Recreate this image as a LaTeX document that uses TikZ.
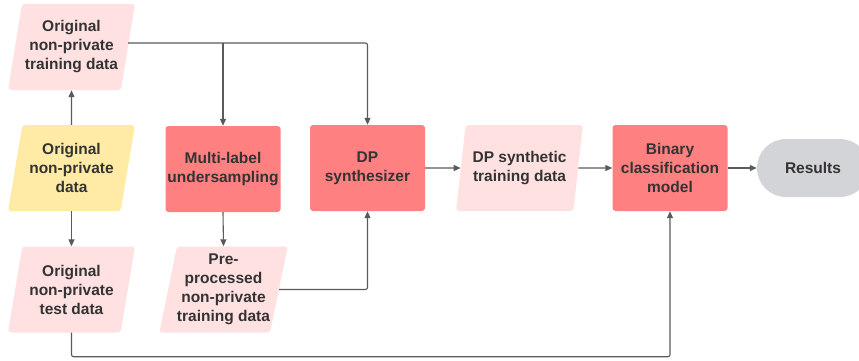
\documentclass[tikz,border=0pt]{standalone}
\usepackage{fontspec}
\setmainfont{Liberation Sans}
\usepackage{tikz}
\usetikzlibrary{arrows.meta,shapes.geometric,calc}

\definecolor{datapink}{HTML}{FFE1E1}
\definecolor{datayellow}{HTML}{FFEBA6}
\definecolor{stepred}{HTML}{FF8080}
\definecolor{endgray}{HTML}{D2D4D7}
\definecolor{linegray}{HTML}{5A5A5A}
\definecolor{textgray}{HTML}{333333}

\begin{document}
\begin{tikzpicture}
    [
      x=1pt, y=-1pt,
      font=\fontsize{15.5}{19}\selectfont\bfseries,
      text=textgray,
      dataset/.style = {shape=trapezium, trapezium left angle=76, trapezium right angle=104,
                        trapezium stretches=true, minimum width=127pt, minimum height=86pt,
                        inner sep=0pt, align=center, rounded corners=3pt, fill=datapink},
      process/.style = {rectangle, minimum width=115pt, minimum height=86pt, inner sep=0pt,
                        align=center, rounded corners=3pt, fill=stepred},
      terminal/.style = {rectangle, minimum width=112pt, minimum height=58pt, inner sep=0pt,
                        rounded corners=29pt, fill=endgray},
      flow/.style = {draw=linegray, line width=1.1pt, rounded corners=2pt,
                     -{Triangle[length=7pt,width=6pt]}},
    ]
    \useasboundingbox (0,0) rectangle (859,360);

    \node[dataset] (train) at (71.5,47) {Original\\non-private\\training data};
    \node[dataset, fill=datayellow] (data) at (71.5,168) {Original\\non-private\\data};
    \node[dataset] (test) at (71.5,289.5) {Original\\non-private\\test data};
    \node[process] (undersample) at (223,169) {Multi-label\\undersampling};
    \node[dataset] (preproc) at (223.5,289.5) {Pre-\\processed\\non-private\\training data};
    \node[process] (synth) at (367.5,168) {DP\\synthesizer};
    \node[dataset] (synthdata) at (519.5,168) {DP synthetic\\training data};
    \node[process] (model) at (670,168) {Binary\\classification\\model};
    \node[terminal] (results) at (813,168) {Results};

    \coordinate (split) at ([yshift=4pt]train.east);

    \draw[flow] (data.north) -- (train.south);
    \draw[flow] (data.south) -- (test.north);
    \draw[flow] (split) -| (synth.north);
    \draw[flow] (split -| undersample.north) -- (undersample.north);
    \draw[flow] (undersample.south) -- (preproc.north);
    \draw[flow] (preproc.east) -| (synth.south);
    \draw[flow] (synth.east) -- (synthdata.west);
    \draw[flow] (synthdata.east) -- (model.west);
    \draw[flow] (model.east) -- (results.west);
    \draw[flow] (test.south) -- ++(0,24) -| (model.south);
  \end{tikzpicture}
\end{document}
